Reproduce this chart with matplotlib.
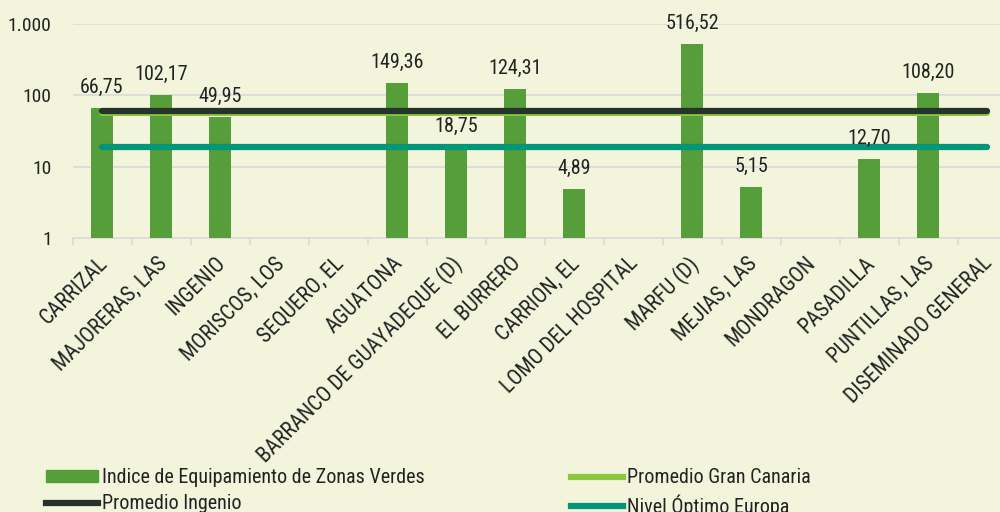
import numpy as np
import matplotlib
matplotlib.use("Agg")
import matplotlib.pyplot as plt
from matplotlib.lines import Line2D
from matplotlib.patches import Patch
import matplotlib.transforms as mtransforms

categories = ["CARRIZAL", "MAJORERAS, LAS", "INGENIO", "MORISCOS, LOS", "SEQUERO, EL",
              "AGUATONA", "BARRANCO DE GUAYADEQUE (D)", "EL BURRERO", "CARRION, EL",
              "LOMO DEL HOSPITAL", "MARFU (D)", "MEJIAS, LAS", "MONDRAGON", "PASADILLA",
              "PUNTILLAS, LAS", "DISEMINADO GENERAL"]
indice = [66.75, 102.17, 49.95, np.nan, np.nan, 149.36, 18.75, 124.31, 4.89,
          np.nan, 516.52, 5.15, np.nan, 12.70, 108.20, np.nan]
promedio_gc = 56.0
promedio_ingenio = 60.0
nivel_europa = 19.0
yticks = [1, 10, 100, 1000]
yticklabels = ["1", "10", "100", "1.000"]

plt.rcParams['font.family'] = ['Roboto Condensed', 'DejaVu Sans']
FS = 14.5
FS_X = 15.5
FS_Y = 14

bg = "#F2F5DC"
bar_c = "#559E3A"
black_c = "#263329"
gc_c = "#8DC63F"
eu_c = "#00967A"
txt_c = "#222222"

W, H = 1000, 512
fig = plt.figure(figsize=(W/100, H/100), dpi=100, facecolor=bg)
ax = fig.add_axes([72.5/W, 1 - 238/H, 944/W, (238 - 24)/H])
ax.set_facecolor(bg)
x = np.arange(len(categories))
vals = np.array(indice, dtype=float)
ax.bar(x, vals, width=0.37, color=bar_c, zorder=3)
for xi, v in zip(x, vals):
    if not np.isnan(v):
        ax.annotate(f"{v:.2f}".replace(".", ","), (xi, v), xytext=(0, 8), textcoords="offset points",
                    ha="center", va="bottom", fontsize=FS, color=txt_c, zorder=5)

ax.plot([x[0], x[-1]], [promedio_gc]*2, color=gc_c, lw=4.3, zorder=4, solid_capstyle='round')
ax.plot([x[0], x[-1]], [promedio_ingenio]*2, color=black_c, lw=4.5, zorder=4, solid_capstyle='round')
ax.plot([x[0], x[-1]], [nivel_europa]*2, color=eu_c, lw=4.5, zorder=4, solid_capstyle='round')

ax.set_yscale("log")
ax.set_ylim(1, 1000)
ax.set_xlim(-0.5, len(categories) - 0.5)
ax.set_yticks(yticks)
ax.set_yticklabels(yticklabels, fontsize=FS_Y, color=txt_c)
ax.yaxis.set_minor_locator(matplotlib.ticker.NullLocator())
ax.tick_params(axis='y', length=0, pad=15)
for yt in yticks[1:]:
    ax.axhline(yt, color="#D9D9D9", lw=1.2, zorder=1)
for s in ["top", "right", "left"]:
    ax.spines[s].set_visible(False)
ax.spines["bottom"].set_color("#D9D9D9")
ax.spines["bottom"].set_linewidth(1.2)

ax.set_xticks(np.arange(len(categories) + 1) - 0.5)
ax.set_xticklabels([])
ax.tick_params(axis='x', length=5, color="#D9D9D9", width=1.2)
offset = mtransforms.ScaledTranslation(-5/100, -15/100, fig.dpi_scale_trans)
trans = mtransforms.blended_transform_factory(ax.transData, ax.transAxes) + offset
for xi, lab in zip(x, categories):
    ax.text(xi, 0, lab, rotation=45, rotation_mode='anchor', ha='right', va='top',
            fontsize=FS_X, color=txt_c, transform=trans)

handles = [Patch(color=bar_c), Line2D([], [], color=black_c, lw=4.5),
           Line2D([], [], color=gc_c, lw=4.5), Line2D([], [], color=eu_c, lw=4.5)]
labels = ["Indice de Equipamiento de Zonas Verdes", "Promedio Ingenio",
          "Promedio Gran Canaria", "Nivel Óptimo Europa"]
common = dict(frameon=False, fontsize=FS, handlelength=2.6, handleheight=0.5,
              handletextpad=0.2, labelspacing=0.35, borderpad=0, borderaxespad=0,
              loc="upper left")
leg1 = fig.legend(handles[:2], labels[:2], bbox_to_anchor=(46/W, 1 - 468/H), **common)
leg2 = fig.legend(handles[2:], labels[2:], bbox_to_anchor=(571/W, 1 - 468/H), **common)
for leg in (leg1, leg2):
    for t in leg.get_texts():
        t.set_color(txt_c)

fig.savefig("out.png", dpi=100, facecolor=bg)
